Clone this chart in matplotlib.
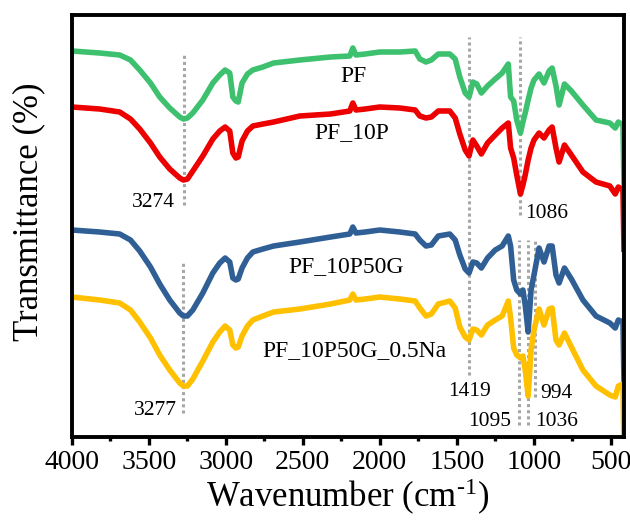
import matplotlib
matplotlib.use("Agg")
import matplotlib.pyplot as plt
from matplotlib.ticker import MultipleLocator

plt.rcParams['font.family'] = ['Liberation Serif', 'DejaVu Serif']
plt.rcParams['mathtext.fontset'] = 'custom'
plt.rcParams['mathtext.rm'] = 'Liberation Serif'
plt.rcParams['mathtext.it'] = 'Liberation Serif:italic'
plt.rcParams['mathtext.bf'] = 'Liberation Serif:bold'

# Wavenumber grid (cm-1), shared by all spectra
wavenumber = [4000, 3820, 3690, 3620, 3560, 3490, 3430, 3365, 3300, 3276, 3250, 3215,
              3150, 3085, 3040, 3005, 2975, 2955, 2935, 2920, 2895, 2860, 2825, 2760,
              2690, 2520, 2320, 2195, 2175, 2155, 2095, 2000, 1870, 1770, 1740, 1700,
              1665, 1620, 1545, 1510, 1480, 1445, 1420, 1395, 1370, 1340, 1300, 1250,
              1205, 1165, 1150, 1130, 1110, 1086, 1070, 1055, 1036, 1017, 998, 965,
              933, 900, 880, 855, 835, 800, 755, 680, 595, 505, 470, 450, 420, 413]

# Stacked transmittance traces (arbitrary offset units)
pf = [386, 384, 382, 377, 367, 354, 340, 329, 320, 318, 319, 324,
      337, 354, 362, 367, 364, 340, 336, 335, 354, 363, 367, 370,
      374, 377, 380, 381, 389, 382, 383, 385, 385, 386, 378, 375,
      377, 383, 383, 378, 360, 344, 340, 355, 353, 344, 351, 358,
      364, 373, 340, 336, 317, 304, 315, 324, 337, 349, 357, 363,
      354, 366, 369, 351, 332, 353, 346, 332, 317, 314, 309, 315, 312, 250]

pf_10p = [330, 328, 325, 318, 308, 294, 280, 268, 259, 257, 258, 266,
          281, 298, 306, 310, 306, 284, 279, 280, 296, 306, 311, 313,
          315, 321, 323, 326, 334, 327, 328, 330, 329, 327, 321, 319,
          320, 326, 326, 319, 303, 287, 281, 297, 291, 283, 294, 302,
          309, 314, 289, 279, 262, 243, 252, 262, 277, 289, 297, 304,
          299, 307, 310, 289, 275, 292, 282, 265, 255, 251, 243, 250, 247, 185]

pf_10p50g = [207, 205, 203, 197, 186, 170, 153, 137, 124, 121, 121, 127,
             144, 164, 174, 179, 175, 159, 157, 158, 169, 179, 185, 188,
             191, 195, 200, 203, 210, 204, 205, 207, 205, 203, 197, 191,
             192, 201, 203, 197, 182, 168, 164, 175, 174, 169, 179, 187,
             191, 201, 191, 157, 147, 143, 147, 132, 105, 147, 162, 189,
             175, 191, 191, 162, 154, 169, 158, 137, 121, 114, 109, 117, 115, 52]

pf_10p50g_na = [140, 137, 134, 127, 115, 99, 82, 67, 54, 51, 51, 58,
                76, 95, 105, 111, 107, 92, 89, 90, 101, 111, 117, 121,
                125, 128, 133, 137, 143, 137, 138, 140, 138, 136, 129, 121,
                123, 133, 136, 129, 110, 100, 97, 108, 107, 102, 112, 117,
                121, 136, 119, 89, 82, 79, 81, 67, 41, 87, 107, 128,
                112, 128, 129, 97, 92, 104, 90, 67, 51, 42, 40, 51, 53, -13]

series = [
    ("PF", pf, "#3dc16f"),
    ("PF_10P", pf_10p, "#ec0000"),
    ("PF_10P50G", pf_10p50g, "#2f5f94"),
    ("PF_10P50G_0.5Na", pf_10p50g_na, "#ffc000"),
]

# Curve names: (text, wavenumber, level)
curve_labels = [("PF", 2174, 361), ("PF_10P", 2180, 304),
                ("PF_10P50G", 2220, 170), ("PF_10P50G_0.5Na", 2168, 86)]

# Band markers: (position, lower level, upper level)
band_lines = [(3274, 232, 382), (3277, 24, 175), (1419, 62, 400), (1086, 222, 400),
              (1095, 12, 197), (1036, 12, 197), (994, 40, 197)]

# Band labels: (text, wavenumber, level, alignment)
band_labels = [("3274", 3330, 235, "right"), ("3277", 3320, 27, "right"),
               ("1419", 1419, 46, "center"), ("1086", 1057, 224, "left"),
               ("1095", 1147, 16, "right"), ("1036", 991, 16, "left"),
               ("994", 959, 44, "left")]

fig = plt.figure(figsize=(6.30, 5.21), dpi=100)
ax = fig.add_axes([0.1143, 0.1612, 0.8762, 0.8100])

for pos, lo, hi in band_lines:
    ax.plot([pos, pos], [lo, hi], color="#a6a6a6", lw=2.2,
            linestyle=(0, (1, 1)), zorder=1)

for name, vals, col in series:
    ax.plot(wavenumber, vals, color=col, lw=4.0, solid_joinstyle="round",
            solid_capstyle="butt", zorder=2)

for text, x, y in curve_labels:
    ax.text(x, y, text, fontsize=17, ha="center", va="center", zorder=3)

for text, x, y, ha in band_labels:
    ax.text(x, y, text, fontsize=15.5, ha=ha, va="center", zorder=3)

ax.set_xlim(4000, 413)
ax.set_ylim(0, 422)
ax.xaxis.set_major_locator(MultipleLocator(500))
ax.xaxis.set_minor_locator(MultipleLocator(250))
ax.set_yticks([])
ax.tick_params(axis="x", which="major", direction="out", length=6, width=2.4,
               labelsize=20, pad=3)
ax.tick_params(axis="x", which="minor", direction="out", length=3, width=2.4)
for sp in ax.spines.values():
    sp.set_linewidth(2.8)
    sp.set_color("black")

ax.set_xlabel("Wavenumber (cm$^{\\text{-1}}$)", fontsize=25, labelpad=2)
ax.set_ylabel("Transmittance (%)", fontsize=25)
ax.yaxis.set_label_coords(-0.049, 0.533)

fig.savefig("out.png", dpi=100)
